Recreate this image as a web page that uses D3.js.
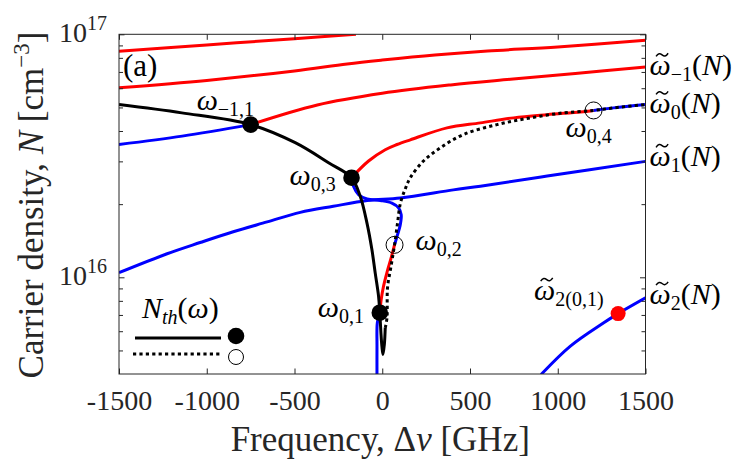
<!DOCTYPE html>
<html>
<head>
<meta charset="utf-8">
<script src="https://cdn.jsdelivr.net/npm/d3@7"></script>
<style>
  body { margin: 0; background: #fff; }
  svg { display: block; }
  text { font-family: "Liberation Serif", "Times New Roman", serif; }
</style>
</head>
<body>
<svg id="chart"></svg>
<script>
const width = 747, height = 466;
const margin = {top: 34.3, right: 101.5, bottom: 92, left: 119};

// Ticks
const xTicks = [-1500, -1000, -500, 0, 500, 1000, 1500];
const yMajor = [1e16, 1e17];
const yMinor = [5e15, 6e15, 7e15, 8e15, 9e15, 2e16, 3e16, 4e16, 5e16, 6e16, 7e16, 8e16, 9e16];

// Mode curves [frequency GHz, carrier density cm^-3]
const modeM3 = [[-1500, 8.52e16], [-1000, 9.04e16], [-500, 9.59e16], [-150, 1.0e17]];
const modeM2 = [[-1500, 6.02e16], [-1000, 6.46e16], [-500, 7.07e16], [-200, 7.55e16], [0, 7.83e16],
                [300, 8.22e16], [600, 8.54e16], [1000, 8.87e16], [1500, 9.45e16]];
const modeM1Blue = [[-1500, 3.52e16], [-1140, 3.81e16], [-750, 4.25e16]];
const modeM1Red = [[-750, 4.25e16], [-370, 5.12e16], [0, 5.72e16], [390, 6.19e16], [730, 6.53e16],
                   [1100, 6.90e16], [1500, 7.34e16]];
const mode0RedUpper = [[-175, 2.57e16], [-78, 3.01e16], [17, 3.35e16], [84, 3.52e16], [160, 3.68e16],
                       [369, 4.12e16], [559, 4.32e16], [748, 4.53e16], [939, 4.67e16], [1129, 4.79e16], [1204, 4.86e16]];
const mode0BlueRight = [[1204, 4.86e16], [1318, 4.98e16], [1500, 5.14e16]];
const mode0BlueLoop = [[-175, 2.57e16], [-164, 2.37e16], [-135, 2.19e16], [-87, 2.10e16], [-11, 2.07e16],
                       [55, 2.02e16], [93, 1.93e16], [108, 1.81e16], [103, 1.65e16], [84, 1.47e16], [70, 1.36e16]];
const mode0RedLower = [[70, 1.36e16], [51, 1.205e16], [28, 1.055e16], [8, 9.24e15], [-6, 8.10e15], [-14, 7.15e15]];
const mode0BlueLower = [[-14, 7.15e15], [-28, 6.5e15], [-30, 5.2e15], [-30, 3.9e15]];
const mode1 = [[-1500, 1.045e16], [-1226, 1.25e16], [-1038, 1.39e16], [-849, 1.54e16], [-656, 1.69e16],
               [-467, 1.85e16], [-279, 1.96e16], [-86, 2.07e16], [103, 2.12e16], [405, 2.29e16],
               [559, 2.37e16], [940, 2.61e16], [1500, 3.00e16]];
const mode2 = [[905, 3.98e15], [1072, 5.21e15], [1262, 6.50e15], [1344, 7.09e15], [1500, 8.23e15]];

// Threshold density N_th(omega)
const nthSolid = [[-1500, 5.14e16], [-1142, 4.75e16], [-750, 4.25e16], [-496, 3.58e16], [-306, 2.96e16],
                  [-175, 2.57e16], [-125, 2.15e16], [-87, 1.67e16], [-59, 1.30e16], [-40, 1.04e16],
                  [-21, 8.35e15], [-14, 7.15e15], [-8, 6.0e15], [-2, 5.2e15], [4, 4.81e15], [12, 5.3e15], [17, 6.19e15]];
const nthDotted = [[17, 6.19e15], [27, 6.81e15], [30, 9.04e15], [50, 1.11e16], [70, 1.36e16], [87, 1.67e16],
                   [103, 2.01e16], [131, 2.31e16], [160, 2.57e16], [235, 3.01e16], [331, 3.41e16],
                   [463, 3.87e16], [654, 4.25e16], [844, 4.53e16], [1033, 4.75e16], [1204, 4.86e16],
                   [1318, 4.98e16], [1500, 5.14e16]];

// Marked points
const solidPoints = [[-750, 4.25e16], [-175, 2.57e16], [-14, 7.15e15]];
const openPoints = [[70, 1.36e16], [1204, 4.86e16]];
const redPoint = [1344, 7.09e15];

const svg = d3.select("#chart").attr("width", width).attr("height", height);

const x = d3.scaleLinear().domain([-1500, 1500]).range([margin.left, width - margin.right]);
const y = d3.scaleLog().domain([4e15, 1e17]).range([height - margin.bottom, margin.top]);

svg.append("defs").append("clipPath").attr("id", "plot-clip")
  .append("rect")
  .attr("x", margin.left).attr("y", margin.top)
  .attr("width", x.range()[1] - margin.left)
  .attr("height", y.range()[0] - margin.top);

const line = d3.line().x(d => x(d[0])).y(d => y(d[1])).curve(d3.curveCatmullRom.alpha(0.5));

const plot = svg.append("g").attr("clip-path", "url(#plot-clip)");

function curve(data, color, dash) {
  const p = plot.append("path")
    .attr("d", line(data))
    .attr("fill", "none")
    .attr("stroke", color)
    .attr("stroke-width", 3);
  if (dash) p.attr("stroke-dasharray", dash);
  return p;
}

// Modes
curve(modeM3, "#ff0000");
curve(modeM2, "#ff0000");
curve(modeM1Blue, "#0000ff");
curve(modeM1Red, "#ff0000");
curve(mode1, "#0000ff");
curve(mode0BlueLoop, "#0000ff");
curve(mode0RedLower, "#ff0000");
curve(mode0BlueLower, "#0000ff");
curve(mode0RedUpper, "#ff0000");
curve(mode0BlueRight, "#0000ff");
curve(mode2, "#0000ff");

// Threshold
curve(nthSolid, "#000");
curve(nthDotted, "#000", "3.2,3.2");

// Markers
plot.selectAll("circle.solid").data(solidPoints).join("circle")
  .attr("class", "solid")
  .attr("cx", d => x(d[0])).attr("cy", d => y(d[1])).attr("r", 8.3)
  .attr("fill", "#000");
svg.selectAll("circle.open").data(openPoints).join("circle")
  .attr("class", "open")
  .attr("cx", d => x(d[0])).attr("cy", d => y(d[1])).attr("r", 8.5)
  .attr("fill", "none").attr("stroke", "#000").attr("stroke-width", 1);
svg.append("circle")
  .attr("cx", x(redPoint[0])).attr("cy", y(redPoint[1])).attr("r", 7.5)
  .attr("fill", "#ff0000");

// Axes (ticks inward, mirrored)
const axisColor = "#262626";
const plotBottom = y.range()[0], plotRight = x.range()[1];

function styleAxis(g) {
  g.select(".domain").remove();
  g.selectAll(".tick line").attr("stroke", axisColor);
}

svg.append("g").attr("transform", `translate(0,${plotBottom})`)
  .call(d3.axisBottom(x).tickValues(xTicks).tickSizeInner(-5.5).tickSizeOuter(0).tickFormat(d => d))
  .call(styleAxis)
  .call(g => g.selectAll(".tick text")
    .attr("y", 36).attr("dy", null)
    .attr("fill", axisColor)
    .attr("font-size", 28)
    .attr("font-family", "Liberation Serif"));

svg.append("g").attr("transform", `translate(0,${margin.top})`)
  .call(d3.axisTop(x).tickValues(xTicks).tickSizeInner(-5.5).tickSizeOuter(0).tickFormat(""))
  .call(styleAxis);

[[yMajor, 5.5], [yMinor, 4]].forEach(([vals, len]) => {
  svg.append("g").attr("transform", `translate(${margin.left},0)`)
    .call(d3.axisLeft(y).tickValues(vals).tickSizeInner(-len).tickSizeOuter(0).tickFormat(""))
    .call(styleAxis);
  svg.append("g").attr("transform", `translate(${plotRight},0)`)
    .call(d3.axisRight(y).tickValues(vals).tickSizeInner(-len).tickSizeOuter(0).tickFormat(""))
    .call(styleAxis);
});

// y tick labels 10^16, 10^17
yMajor.forEach(v => {
  const t = svg.append("text")
    .attr("x", margin.left - 12).attr("y", y(v) + 7.5)
    .attr("text-anchor", "end").attr("fill", axisColor);
  t.append("tspan").attr("font-size", 28).text("10");
  t.append("tspan").attr("font-size", 20).attr("dy", -12).text(Math.round(Math.log10(v)));
});

// Frame
svg.append("rect")
  .attr("x", margin.left).attr("y", margin.top)
  .attr("width", plotRight - margin.left).attr("height", plotBottom - margin.top)
  .attr("fill", "none").attr("stroke", axisColor).attr("stroke-width", 1);

// Axis titles
const xt = svg.append("text")
  .attr("x", (margin.left + plotRight) / 2 - 2).attr("y", 451)
  .attr("text-anchor", "middle").attr("font-size", 35).attr("fill", axisColor);
xt.append("tspan").text("Frequency, Δ");
xt.append("tspan").attr("font-style", "italic").text("ν");
xt.append("tspan").text(" [GHz]");

const yt = svg.append("text")
  .attr("transform", `translate(43,205) rotate(-90)`)
  .attr("text-anchor", "middle").attr("font-size", 35).attr("fill", axisColor);
yt.append("tspan").text("Carrier density, ");
yt.append("tspan").attr("font-style", "italic").text("N");
yt.append("tspan").text(" [cm");
yt.append("tspan").attr("font-size", 23).attr("dy", -14).text("−3");
yt.append("tspan").attr("dy", 14).text("]");

// Math labels; a piece flagged tilde gets a drawn tilde accent above it
const mainSize = 30, subSize = 20;
function mathLabel(px, py, pieces) {
  const t = svg.append("text").attr("x", px).attr("y", py).attr("fill", "#000");
  let shift = 0;
  pieces.forEach(p => {
    const s = t.append("tspan").text(p.text)
      .attr("font-size", p.sub ? subSize : mainSize)
      .attr("font-style", p.it ? "italic" : "normal");
    const target = p.sub ? 6 : 0;
    if (target !== shift) { s.attr("dy", target - shift); shift = target; }
    if (p.tilde) {
      const w = s.node().getComputedTextLength();
      svg.append("path")
        .attr("transform", `translate(${px + w / 2 + 2},${py - 20})`)
        .attr("d", "M-6,1.6 C-4,-1.8 -2,-1.6 0,0 S4,1.8 6,-1.6")
        .attr("fill", "none").attr("stroke", "#000").attr("stroke-width", 1.5);
    }
  });
  return t;
}

const W = "ω";
mathLabel(x(solidPoints[0][0]) - 54, y(solidPoints[0][1]) - 15, [{text: W, it: 1}, {text: "−1,1", sub: 1}]);
mathLabel(x(solidPoints[1][0]) - 62, y(solidPoints[1][1]) + 7, [{text: W, it: 1}, {text: "0,3", sub: 1}]);
mathLabel(x(solidPoints[2][0]) - 62, y(solidPoints[2][1]) + 4, [{text: W, it: 1}, {text: "0,1", sub: 1}]);
mathLabel(x(openPoints[0][0]) + 21, y(openPoints[0][1]) + 5, [{text: W, it: 1}, {text: "0,2", sub: 1}]);
mathLabel(x(openPoints[1][0]) - 28, y(openPoints[1][1]) + 27, [{text: W, it: 1}, {text: "0,4", sub: 1}]);
mathLabel(x(redPoint[0]) - 84, y(redPoint[1]) - 14, [{text: W, it: 1, tilde: 1}, {text: "2(0,1)", sub: 1}]);

// Right-hand mode labels
const rightLabels = [["−1", 6.81e16], ["0", 4.75e16], ["1", 2.88e16], ["2", 7.8e15]];
rightLabels.forEach(([m, n]) => {
  mathLabel(plotRight + 4, y(n), [{text: W, it: 1, tilde: 1}, {text: m, sub: 1},
    {text: "("}, {text: "N", it: 1}, {text: ")"}]);
});

// Panel tag
svg.append("text").attr("x", margin.left + 4).attr("y", 76).attr("font-size", 31).text("(a)");

// Legend
const lg = svg.append("g");
mathLabel(142, 318, [{text: "N", it: 1}, {text: "th", sub: 1, it: 1}, {text: "("}, {text: W, it: 1}, {text: ")"}]);
lg.append("line").attr("x1", 135).attr("x2", 221).attr("y1", 338).attr("y2", 338)
  .attr("stroke", "#000").attr("stroke-width", 3);
lg.append("line").attr("x1", 133).attr("x2", 221).attr("y1", 354).attr("y2", 354)
  .attr("stroke", "#000").attr("stroke-width", 3).attr("stroke-dasharray", "3.2,3.2");
lg.append("circle").attr("cx", 236).attr("cy", 336).attr("r", 8.3).attr("fill", "#000");
lg.append("circle").attr("cx", 236).attr("cy", 357).attr("r", 7.5)
  .attr("fill", "none").attr("stroke", "#000").attr("stroke-width", 1);
</script>
</body>
</html>
